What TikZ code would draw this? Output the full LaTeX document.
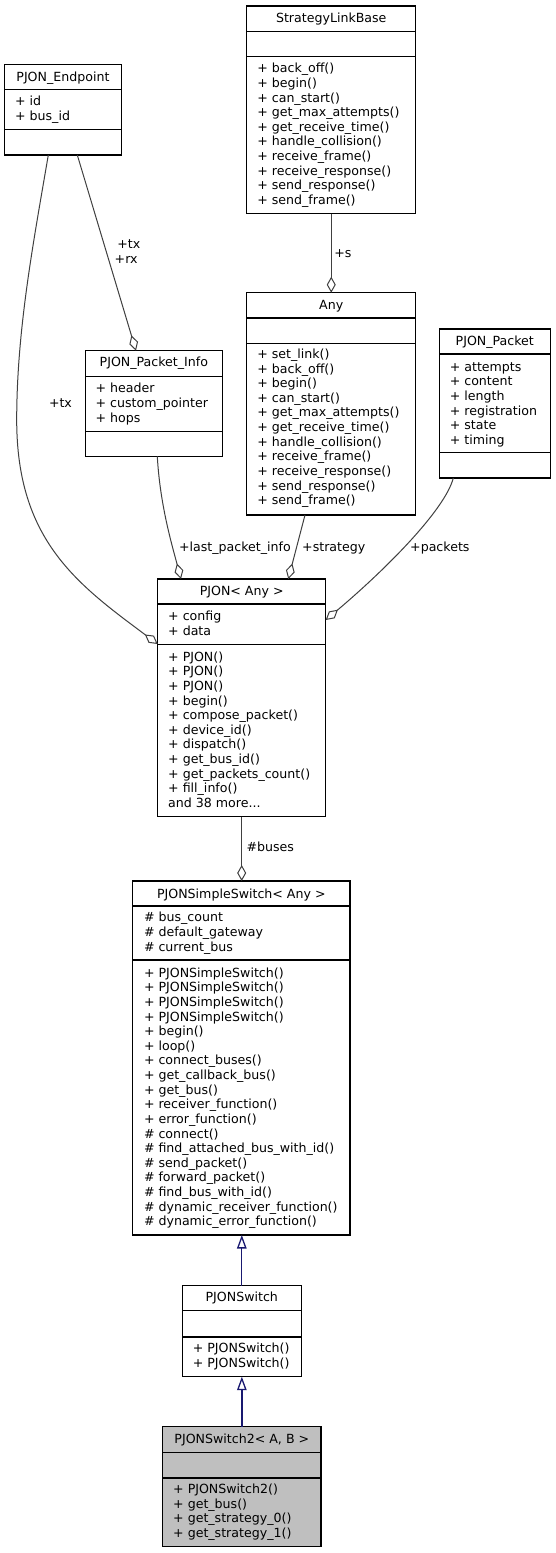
\documentclass[tikz,border=0pt]{standalone}
\usepackage{fontspec}
\setmainfont{DejaVu Sans}
\usetikzlibrary{arrows.meta}
\definecolor{edgegray}{HTML}{404040}
\definecolor{inhblue}{HTML}{191970}
\definecolor{focusgray}{HTML}{BFBFBF}
\newcommand\tdots{...}
\newcommand\umllines[4]{\foreach [count=\i from 0] \t in {#4} {\node[txt] (#1-\i) at (#2,{#3+14.62*\i+4.5}) {\t};}}
\tikzset{
  txt/.style={font=\fontsize{12.6}{14.62}\selectfont, inner sep=0pt, outer sep=0pt, anchor=base west, text=black},
  ttl/.style={txt, anchor=base},
  cls/.style={draw=black, line width=1.1pt, fill=white, inner sep=0pt, outer sep=0pt, anchor=north west, rectangle},
  divline/.style={draw=black, line width=1.1pt},
  assoc/.style={draw=edgegray, line width=1pt, -{Diamond[length=16pt,width=9pt,fill=white]}},
  inherit/.style={draw=inhblue, line width=1.3pt, -{Triangle[length=13.5pt,width=9.5pt,fill=white]}},
  elabel/.style={txt}
}
\begin{document}
\begin{tikzpicture}[x=1pt,y=-1pt]
\fill[white] (0,0) rectangle (556,1553);
\useasboundingbox (0,0) rectangle (556,1553);

% StrategyLinkBase
\node[cls, minimum width=168.9pt, minimum height=207.7pt] (slb) at (246.8,6) {};
\draw[divline] (246.8,31.3) -- (415.7,31.3) (246.8,56.7) -- (415.7,56.7);
\node[ttl] (slb-t) at (331.25,22.3) {StrategyLinkBase};
\umllines{slbm}{257.3}{68.3}{+ back\_off(),+ begin(),+ can\_start(),+ get\_max\_attempts(),+ get\_receive\_time(),+ handle\_collision(),+ receive\_frame(),+ receive\_response(),+ send\_response(),+ send\_frame()}

% PJON_Endpoint
\node[cls, minimum width=116.7pt, minimum height=90.3pt] (ep) at (4.6,64.7) {};
\draw[divline] (4.6,89.7) -- (121.3,89.7) (4.6,129.7) -- (121.3,129.7);
\node[ttl] (ep-t) at (62.95,81.2) {PJON\_Endpoint};
\umllines{epa}{15.1}{101}{+ id,+ bus\_id}

% Any
\node[cls, minimum width=168.9pt, minimum height=222.3pt] (any) at (246.8,292.7) {};
\draw[divline] (246.8,318) -- (415.7,318) (246.8,343.3) -- (415.7,343.3);
\node[ttl] (any-t) at (331.25,309.2) {Any};
\umllines{anym}{257.3}{354}{+ set\_link(),+ back\_off(),+ begin(),+ can\_start(),+ get\_max\_attempts(),+ get\_receive\_time(),+ handle\_collision(),+ receive\_frame(),+ receive\_response(),+ send\_response(),+ send\_frame()}

% PJON_Packet_Info
\node[cls, minimum width=137.6pt, minimum height=105.6pt] (pinfo) at (85.1,350.7) {};
\draw[divline] (85.1,376.7) -- (222.7,376.7) (85.1,431.3) -- (222.7,431.3);
\node[ttl] (pinfo-t) at (153.9,366.8) {PJON\_Packet\_Info};
\umllines{pinfoa}{95.6}{388.3}{+ header,+ custom\_pointer,+ hops}

% PJON_Packet
\node[cls, minimum width=111pt, minimum height=149pt] (pkt) at (439.3,329) {};
\draw[divline] (439.3,354) -- (550.3,354) (439.3,452.7) -- (550.3,452.7);
\node[ttl] (pkt-t) at (494.8,345.2) {PJON\_Packet};
\umllines{pkta}{449.8}{366.7}{+ attempts,+ content,+ length,+ registration,+ state,+ timing}

% PJON< Any >
\node[cls, minimum width=168pt, minimum height=237.7pt] (pjon) at (157.7,579) {};
\draw[divline] (157.7,604) -- (325.7,604) (157.7,644.7) -- (325.7,644.7);
\node[ttl] (pjon-t) at (241.7,595.2) {PJON< Any >};
\umllines{pjona}{168.2}{616}{+ config,+ data}
\umllines{pjonm}{168.2}{656.7}{+ PJON(),+ PJON(),+ PJON(),+ begin(),+ compose\_packet(),+ device\_id(),+ dispatch(),+ get\_bus\_id(),+ get\_packets\_count(),+ fill\_info(),and 38 more\tdots}

% PJONSimpleSwitch< Any >
\node[cls, minimum width=217.3pt, minimum height=354pt] (simple) at (132.7,881) {};
\draw[divline] (132.7,906) -- (350,906) (132.7,960) -- (350,960);
\node[ttl] (simple-t) at (241.35,898.5) {PJONSimpleSwitch< Any >};
\umllines{simplea}{144}{917.3}{\# bus\_count,\# default\_gateway,\# current\_bus}
\umllines{simplem}{144}{972.7}{+ PJONSimpleSwitch(),+ PJONSimpleSwitch(),+ PJONSimpleSwitch(),+ PJONSimpleSwitch(),+ begin(),+ loop(),+ connect\_buses(),+ get\_callback\_bus(),+ get\_bus(),+ receiver\_function(),+ error\_function(),\# connect(),\# find\_attached\_bus\_with\_id(),\# send\_packet(),\# forward\_packet(),\# find\_bus\_with\_id(),\# dynamic\_receiver\_function(),\# dynamic\_error\_function()}

% PJONSwitch
\node[cls, minimum width=119pt, minimum height=91pt] (psw) at (182.3,1285.7) {};
\draw[divline] (182.3,1310.7) -- (301.3,1310.7) (182.3,1337) -- (301.3,1337);
\node[ttl] (psw-t) at (241.8,1301.8) {PJONSwitch};
\umllines{pswm}{192.8}{1348.3}{+ PJONSwitch(),+ PJONSwitch()}

% PJONSwitch2< A, B >
\node[cls, fill=focusgray, minimum width=158.3pt, minimum height=120pt] (psw2) at (162.7,1426.7) {};
\draw[divline] (162.7,1452.3) -- (321,1452.3) (162.7,1478) -- (321,1478);
\node[ttl] (psw2-t) at (241.85,1443.5) {PJONSwitch2< A, B >};
\umllines{psw2m}{173.2}{1489}{+ PJONSwitch2(),+ get\_bus(),+ get\_strategy\_0(),+ get\_strategy\_1()}

% connectors
\draw[assoc] (slb.south) -- (slb.south |- any.north);
\node[elabel] (l-s) at (334.3,257.2) {+s};

\draw[assoc] ([xshift=72.7pt]ep.south west) -- ([xshift=50.9pt]pinfo.north west);
\node[elabel] (l-tx1) at (117.3,248.8) {+tx};
\node[elabel] (l-rx1) at (114.7,263.5) {+rx};

\draw[assoc] ([xshift=43.7pt]ep.south west) .. controls (33.3,243) and (16.7,330) .. (16.7,420) .. controls (16.7,540) and (77,584) .. ([yshift=-65pt]pjon.north west);
\node[elabel] (l-tx2) at (49,407.2) {+tx};

\draw[assoc] ([xshift=72.2pt]pinfo.south west) .. controls (160,505) and (172,545) .. ([xshift=23.3pt]pjon.north west);
\node[elabel] (l-lpi) at (179.1,551.2) {+last\_packet\_info};

\draw[assoc] ([xshift=58.2pt]any.south west) -- ([xshift=130.6pt]pjon.north west);
\node[elabel] (l-str) at (302.2,551.2) {+strategy};

\draw[assoc] ([xshift=14pt]pkt.south west) .. controls (445,510) and (385,570) .. ([yshift=-41pt]pjon.north east);
\node[elabel] (l-pkts) at (410.2,551) {+packets};

\draw[assoc] (pjon.south) -- (pjon.south |- simple.north);
\node[elabel] (l-bus) at (246.5,851.8) {\#buses};

\draw[inherit] (psw.north) -- (psw.north |- simple.south);
\draw[inherit] (psw2.north) -- (psw2.north |- psw.south);
\end{tikzpicture}
\end{document}
